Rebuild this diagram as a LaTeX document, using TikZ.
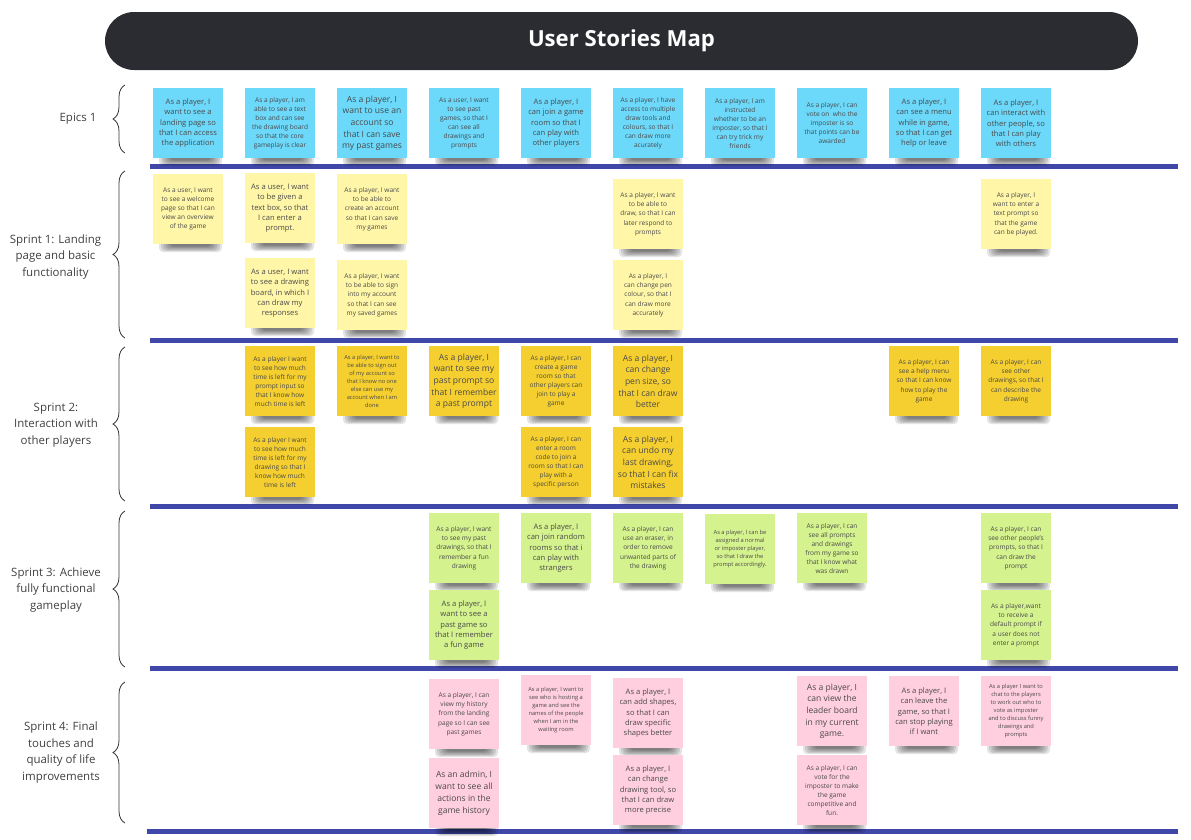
\documentclass[tikz,border=0pt]{standalone}
\usepackage{fontspec}
\setmainfont{Open Sans}
\usetikzlibrary{decorations.pathreplacing}
\definecolor{epicc}{HTML}{6CD8FA}
\definecolor{sprintone}{HTML}{FFF6A8}
\definecolor{sprinttwo}{HTML}{F5CF2F}
\definecolor{sprintthree}{HTML}{D4F28E}
\definecolor{sprintfour}{HTML}{FFCEDF}
\definecolor{barc}{HTML}{3F47A8}
\definecolor{titlec}{HTML}{2B2C31}
\definecolor{txtc}{HTML}{4A4A4A}
\definecolor{labc}{HTML}{404040}
\tikzset{
 sticky/.style={minimum width=52.5pt, minimum height=52.5pt, inner sep=1pt, align=center, text=txtc, anchor=north},
 szL/.style={font=\fontsize{6.4}{8.8}\selectfont},
 szM/.style={font=\fontsize{5.7}{7.7}\selectfont},
 szS/.style={font=\fontsize{4.9}{6.8}\selectfont},
 szX/.style={font=\fontsize{4.3}{6}\selectfont},
 divider/.style={draw=barc, line width=3.75pt},
 lanebrace/.style={decorate, decoration={brace, amplitude=9pt}, draw=black!80, line width=0.6pt},
 lanelabel/.style={align=center, text=labc, font=\fontsize{8.6}{12.5}\selectfont},
 titlebar/.style={fill=titlec, text=white, rounded corners=21.75pt, minimum width=774.75pt, minimum height=43.5pt, font=\fontsize{16.6}{19}\bfseries},
 shadowlayer/.style={fill=black, opacity=0.11, rounded corners=3pt},
}
\newcommand{\stk}[6]{%
  \foreach \k in {0,...,5}{%
    \fill[shadowlayer] ({#2-29+2.2*\k},{#3+60}) rectangle ({#2+34-2.2*\k},{#3+78-1.1*\k});
  }
  \node[sticky, fill=#4, #5] (#1) at (#2,#3) {#6};
}
\begin{document}
\begin{tikzpicture}[x=0.75pt, y=-0.75pt]
\useasboundingbox (0,0) rectangle (1191,839);
\node[titlebar] (title) at (621.5,41) {User Stories Map};

% dividers
\coordinate (d1a) at (150,166); \coordinate (d1b) at (1178,166);
\coordinate (d2a) at (150,340); \coordinate (d2b) at (1178,340);
\coordinate (d3a) at (150,506); \coordinate (d3b) at (1178,506);
\coordinate (d4a) at (150,668); \coordinate (d4b) at (1178,668);
\coordinate (d5a) at (147,831); \coordinate (d5b) at (1178,831);
\draw[divider] (d1a) -- (d1b);
\draw[divider] (d2a) -- (d2b);
\draw[divider] (d3a) -- (d3b);
\draw[divider] (d4a) -- (d4b);
\draw[divider] (d5a) -- (d5b);

% braces
\coordinate (b0a) at (125,153); \coordinate (b0b) at (125,85);
\coordinate (b1a) at (125,338); \coordinate (b1b) at (125,171);
\coordinate (b2a) at (125,501); \coordinate (b2b) at (125,347);
\coordinate (b3a) at (125,667); \coordinate (b3b) at (125,511);
\coordinate (b4a) at (125,823); \coordinate (b4b) at (125,682);
\draw[lanebrace] (b0a) -- (b0b);
\draw[lanebrace] (b1a) -- (b1b);
\draw[lanebrace] (b2a) -- (b2b);
\draw[lanebrace] (b3a) -- (b3b);
\draw[lanebrace] (b4a) -- (b4b);

% lane labels
\node[lanelabel] (l0) at (78,119) {Epics 1};
\node[lanelabel] (l1) at (55.5,257) {Sprint 1: Landing\\page and basic\\functionality};
\node[lanelabel] (l2) at (56,425) {Sprint 2:\\Interaction with\\other players};
\node[lanelabel] (l3) at (56,590) {Sprint 3: Achieve\\fully functional\\gameplay};
\node[lanelabel] (l4) at (61,752.5) {Sprint 4: Final\\touches and\\quality of life\\improvements};

% Epics
\stk{e1}{188}{88}{epicc}{szM}{As a player, I\\want to see a\\landing page so\\that I can access\\the application}
\stk{e2}{280}{88}{epicc}{szS}{As a player, I am\\able to see a text\\box and can see\\the drawing board\\so that the core\\gameplay is clear}
\stk{e3}{372}{88}{epicc}{szL}{As a player, I\\want to use an\\account so\\that I can save\\my past games}
\stk{e4}{464}{88}{epicc}{szS}{As a user, I want\\to see past\\games, so that I\\can see all\\drawings and\\prompts}
\stk{e5}{556}{88}{epicc}{szM}{As a player, I\\can join a game\\room so that I\\can play with\\other players}
\stk{e6}{648}{88}{epicc}{szS}{As a player, I have\\access to multiple\\draw tools and\\colours, so that I\\can draw more\\acurately}
\stk{e7}{740}{88}{epicc}{szS}{As a player, I am\\instructed\\whether to be an\\imposter, so that I\\can try trick my\\friends}
\stk{e8}{832}{88}{epicc}{szS}{As a player, I can\\vote on \ who the\\imposter is so\\that points can be\\awarded}
\stk{e9}{924}{88}{epicc}{szM}{As a player, I\\can see a menu\\while in game,\\so that I can get\\help or leave}
\stk{e10}{1016}{88}{epicc}{szM}{As a player, I\\can interact with\\other people, so\\that I can play\\with others}

% Sprint 1
\stk{s1a}{188}{174}{sprintone}{szS}{As a user, I want\\to see a welcome\\page so that I can\\view an overview\\of the game}
\stk{s1b}{280}{173}{sprintone}{szM}{As a user, I want\\to be given a\\text box, so that\\I can enter a\\prompt.}
\stk{s1c}{372}{174}{sprintone}{szS}{As a player, I want\\to be able to\\create an account\\so that I can save\\my games}
\stk{s1d}{280}{258}{sprintone}{szM}{As a user, I want\\to see a drawing\\board, in which I\\can draw my\\responses}
\stk{s1e}{372}{260}{sprintone}{szS}{As a player, I want\\to be able to sign\\into my account\\so that I can see\\my saved games}
\stk{s1f}{648}{179}{sprintone}{szS}{As a player, I want\\to be able to\\draw, so that I can\\later respond to\\prompts}
\stk{s1g}{648}{260}{sprintone}{szS}{As a player, I\\can change pen\\colour, so that I\\can draw more\\accurately}
\stk{s1h}{1016}{179}{sprintone}{szS}{As a player, I\\want to enter a\\text prompt so\\that the game\\can be played.}

% Sprint 2
\stk{s2a}{280}{346}{sprinttwo}{szS}{As a player I want\\to see how much\\time is left for my\\prompt input so\\that I know how\\much time is left}
\stk{s2b}{280}{427}{sprinttwo}{szS}{As a player I want\\to see how much\\time is left for my\\drawing so that I\\know how much\\time is left}
\stk{s2c}{372}{346}{sprinttwo}{szX}{As a player, I want to\\be able to sign out\\of my account so\\that I know no one\\else can use my\\account when I am\\done}
\stk{s2d}{464}{346}{sprinttwo}{szL}{As a player, I\\want to see my\\past prompt so\\that I remember\\a past prompt}
\stk{s2e}{556}{346}{sprinttwo}{szS}{As a player, I can\\create a game\\room so that\\other players can\\join to play a\\game}
\stk{s2f}{556}{427}{sprinttwo}{szS}{As a player, I can\\enter a room\\code to join a\\room so that I can\\play with a\\specific person}
\stk{s2g}{648}{346}{sprinttwo}{szL}{As a player, I\\can change\\pen size, so\\that I can draw\\better}
\stk{s2h}{648}{427}{sprinttwo}{szL}{As a player, I\\can undo my\\last drawing,\\so that I can fix\\mistakes}
\stk{s2i}{924}{346}{sprinttwo}{szS}{As a player, I can\\see a help menu\\so that I can know\\how to play the\\game}
\stk{s2j}{1016}{346}{sprinttwo}{szS}{As a player, I can\\see other\\drawings, so that I\\can describe the\\drawing}

% Sprint 3
\stk{s3a}{464}{513}{sprintthree}{szS}{As a player, I want\\to see my past\\drawings, so that I\\remember a fun\\drawing}
\stk{s3b}{464}{590}{sprintthree}{szM}{As a player, I\\want to see a\\past game so\\that I remember\\a fun game}
\stk{s3c}{556}{513}{sprintthree}{szM}{As a player, I\\can join random\\rooms so that i\\can play with\\strangers}
\stk{s3d}{648}{513}{sprintthree}{szS}{As a player, I can\\use an eraser, in\\order to remove\\unwanted parts of\\the drawing}
\stk{s3e}{740}{514}{sprintthree}{szX}{As a player, I can be\\assigned a normal\\or imposter player,\\so that I draw the\\prompt accordingly.}
\stk{s3f}{832}{513}{sprintthree}{szS}{As a player, I can\\see all prompts\\and drawings\\from my game so\\that I know what\\was drawn}
\stk{s3g}{1016}{513}{sprintthree}{szS}{As a player, I can\\see other people's\\prompts, so that I\\can draw the\\prompt}
\stk{s3h}{1016}{590}{sprintthree}{szS}{As a player,want\\to receive a\\default prompt if\\a user does not\\enter a prompt}

% Sprint 4
\stk{s4a}{464}{679}{sprintfour}{szS}{As a player, I can\\view my history\\from the landing\\page so I can see\\past games}
\stk{s4b}{464}{758}{sprintfour}{szL}{As an admin, I\\want to see all\\actions in the\\game history}
\stk{s4c}{556}{675}{sprintfour}{szX}{As a player, I want to\\see who is hosting a\\game and see the\\names of the people\\when I am in the\\waiting room}
\stk{s4d}{648}{678}{sprintfour}{szM}{As a player, I\\can add shapes,\\so that I can\\draw specific\\shapes better}
\stk{s4e}{648}{755}{sprintfour}{szM}{As a player, I\\can change\\drawing tool, so\\that I can draw\\more precise}
\stk{s4f}{832}{676}{sprintfour}{szL}{As a player, I\\can view the\\leader board\\in my current\\game.}
\stk{s4g}{832}{755}{sprintfour}{szS}{As a player, I can\\vote for the\\imposter to make\\the game\\competitive and\\fun.}
\stk{s4h}{924}{676}{sprintfour}{szM}{As a player, I\\can leave the\\game, so that I\\can stop playing\\if I want}
\stk{s4i}{1016}{676}{sprintfour}{szX}{As a player I want to\\chat to the players\\to work out who to\\vote as imposter\\and to discuss funny\\drawings and\\prompts}
\end{tikzpicture}
\end{document}
